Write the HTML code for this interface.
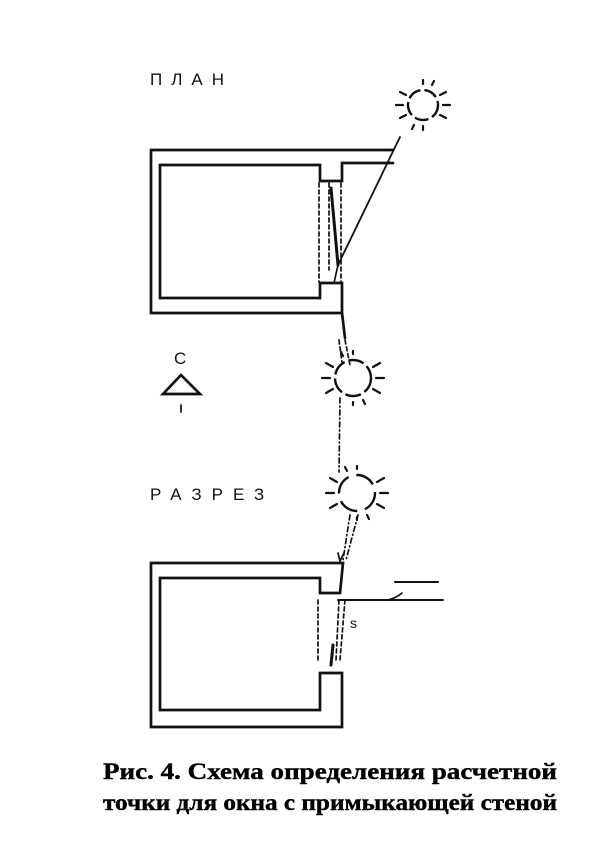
<!DOCTYPE html>
<html><head><meta charset="utf-8"><style>
html,body{margin:0;padding:0;background:#fff;width:615px;height:858px;overflow:hidden}
</style></head><body>
<svg width="615" height="858" viewBox="0 0 615 858" xmlns="http://www.w3.org/2000/svg">
<g fill="none" stroke="#111" stroke-width="2.7" stroke-linecap="round">
<path d="M393,150 L151,150 L151,313 L342,313 L342,283 L320,283 L320,298 L160,298 L160,165 L320,165 L320,181 L342,181 L342,163 L393,163"/>
<line x1="342" y1="313" x2="345" y2="338"/>
<g stroke-width="1.7" stroke-dasharray="4,3">
<line x1="319" y1="183" x2="319" y2="282"/>
<line x1="341" y1="183" x2="341" y2="282"/>
<line x1="329" y1="183" x2="329" y2="270"/>
<line x1="345" y1="340" x2="350" y2="365"/>
<line x1="339" y1="340" x2="342" y2="362"/>
</g>
<line x1="331" y1="188" x2="338" y2="265" stroke-width="3"/>
<line x1="338" y1="265" x2="334" y2="283" stroke-width="1.7"/>
<line x1="400" y1="137" x2="338" y2="265" stroke-width="1.8"/>
<g stroke-width="1.7" stroke-dasharray="5,3,1,3">
<line x1="340" y1="398" x2="339" y2="472"/>
<line x1="350" y1="515" x2="343" y2="560"/>
<line x1="358" y1="515" x2="346" y2="560"/>
</g>
<path d="M338,553 L340,561 L344,553" stroke-width="1.7"/>
<path d="M163,394 L181,375 L200,394 Z"/>
<line x1="181" y1="405" x2="181" y2="412" stroke-width="1.7"/>
<path d="M151,563 L343,563 L340,593 L320,593 L320,578 L160,578 L160,710 L320,710 L320,673 L342,673 L342,727 L151,727 Z"/>
<path d="M338,600 L443,600" stroke-width="2"/>
<path d="M395,582 L438,582" stroke-width="2"/>
<path d="M388,600 Q396,598 402,593" stroke-width="1.7"/>
<g stroke-width="1.7" stroke-dasharray="4,3">
<line x1="318" y1="600" x2="318" y2="660"/>
<line x1="339" y1="600" x2="336" y2="660"/>
<line x1="345" y1="600" x2="340" y2="660"/>
</g>
<line x1="333" y1="645" x2="331" y2="665" stroke-width="3"/>
</g>
<g fill="none" stroke="#111" stroke-width="2.4">
<circle cx="423" cy="105" r="15" stroke-dasharray="14,4"/>
<circle cx="353" cy="378" r="18" stroke-dasharray="16,4"/>
<circle cx="357" cy="493" r="18" stroke-dasharray="20,8"/>
</g>
<g stroke="#111" stroke-width="2.2" stroke-linecap="round">
<g transform="translate(423,105)">
<line x1="20" y1="0" x2="27" y2="0"/><line x1="-20" y1="0" x2="-27" y2="0"/>
<line x1="17" y1="-10" x2="23" y2="-13"/><line x1="-17" y1="-10" x2="-23" y2="-13"/>
<line x1="17" y1="10" x2="23" y2="13"/><line x1="-17" y1="10" x2="-23" y2="13"/>
<line x1="0" y1="-21" x2="0" y2="-25"/><line x1="0" y1="21" x2="0" y2="25"/>
<line x1="-9" y1="20" x2="-11" y2="24"/><line x1="9" y1="-20" x2="11" y2="-24"/>
</g>
<g transform="translate(353,378)">
<line x1="23" y1="0" x2="31" y2="0"/><line x1="-23" y1="0" x2="-31" y2="0"/>
<line x1="20" y1="-11" x2="27" y2="-15"/><line x1="-20" y1="-11" x2="-27" y2="-15"/>
<line x1="20" y1="11" x2="27" y2="15"/><line x1="-20" y1="11" x2="-27" y2="15"/>
<line x1="0" y1="-24" x2="0" y2="-27"/><line x1="0" y1="24" x2="0" y2="27"/>
<line x1="-10" y1="-22" x2="-12" y2="-26"/><line x1="10" y1="22" x2="12" y2="26"/>
</g>
<g transform="translate(357,493)">
<line x1="23" y1="0" x2="31" y2="0"/><line x1="-23" y1="0" x2="-31" y2="0"/>
<line x1="20" y1="-11" x2="27" y2="-15"/><line x1="-20" y1="-11" x2="-27" y2="-15"/>
<line x1="20" y1="11" x2="27" y2="15"/><line x1="-20" y1="11" x2="-27" y2="15"/>
<line x1="0" y1="-24" x2="0" y2="-27"/><line x1="0" y1="24" x2="0" y2="27"/>
<line x1="-10" y1="-22" x2="-12" y2="-26"/><line x1="10" y1="22" x2="12" y2="26"/>
</g>
</g>
<g font-family="Liberation Sans, sans-serif" fill="#111">
<text x="150" y="85" font-size="17" letter-spacing="9">ПЛАН</text>
<text x="150" y="500" font-size="17" letter-spacing="10">РАЗРЕЗ</text>
<text x="174" y="364" font-size="17">С</text>
<text x="350" y="628" font-size="14">s</text>
</g>
<g font-family="Liberation Serif, serif" font-weight="bold" font-size="23" fill="#000" stroke="#000" stroke-width="0.4">
<text x="103" y="779" textLength="454" lengthAdjust="spacingAndGlyphs">Рис. 4. Схема определения расчетной</text>
<text x="103" y="810" textLength="454" lengthAdjust="spacingAndGlyphs">точки для окна с примыкающей стеной</text>
</g>
</svg>
</body></html>
